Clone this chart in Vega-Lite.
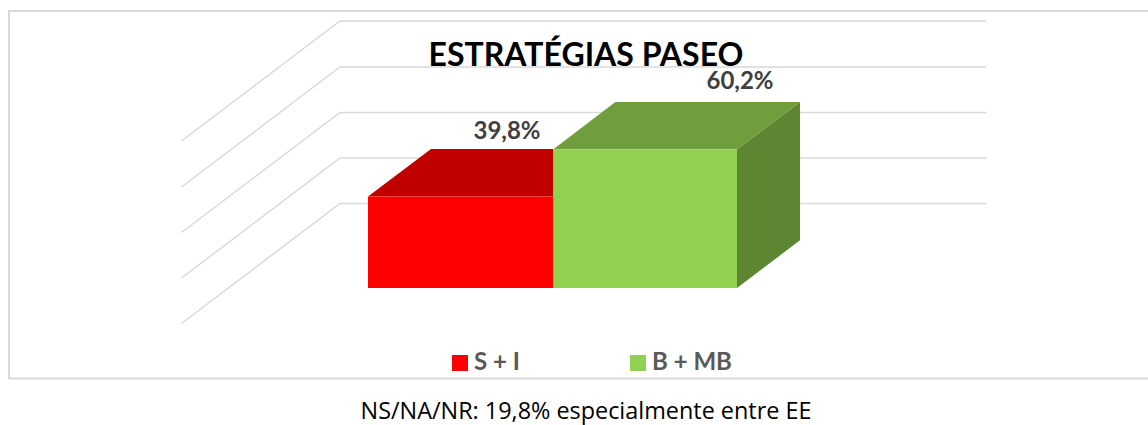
{
"$schema":"https://vega.github.io/schema/vega-lite/v6.json",
"width":1148,"height":425,"padding":0,
"autosize":{"type":"none"},
"background":"white",
"datasets":{
"frame":[{"o":1,"x":1148,"y":11},{"o":2,"x":9,"y":11},{"o":3,"x":9,"y":378.5},{"o":4,"x":1148,"y":378.5}],
"grid":[
{"level":100,"x":181.5,"y":141},{"level":100,"x":340,"y":21},{"level":100,"x":986.5,"y":21},
{"level":75,"x":181.5,"y":187},{"level":75,"x":340,"y":67},{"level":75,"x":986.5,"y":67},
{"level":50,"x":181.5,"y":232.5},{"level":50,"x":340,"y":112.5},{"level":50,"x":986.5,"y":112.5},
{"level":25,"x":181.5,"y":278},{"level":25,"x":340,"y":158},{"level":25,"x":986.5,"y":158},
{"level":0,"x":181.5,"y":323.5},{"level":0,"x":340,"y":203.5},{"level":0,"x":986.5,"y":203.5}],
"front":[{"serie":"S + I","x":368,"x2":553,"y":196.5,"y2":288,"pct":39.8},{"serie":"B + MB","x":553,"x2":737,"y":149.5,"y2":288,"pct":60.2}],
"depth":[
{"face":"topS","x":368,"y":196.5,"y2":196.5},{"face":"topS","x":431,"y":149,"y2":196.5},{"face":"topS","x":553,"y":149,"y2":196.5},
{"face":"topB","x":553,"y":149.5,"y2":149.5},{"face":"topB","x":615.4,"y":102,"y2":149.5},{"face":"topB","x":737,"y":102,"y2":149.5},{"face":"topB","x":800,"y":102,"y2":102},
{"face":"sideB","x":737,"y":149.5,"y2":288},{"face":"sideB","x":800,"y":102,"y2":240.3}],
"labels":[{"t":"39,8%","x":507,"y":132},{"t":"60,2%","x":740,"y":82}],
"title":[{"t":"ESTRATÉGIAS PASEO","x":586,"y":56}],
"note":[{"t":"NS/NA/NR: 19,8% especialmente entre EE","x":586,"y":412}]
},
"layer":[
{"data":{"name":"frame"},"mark":{"type":"line","stroke":"#d9d9d9","strokeWidth":2},
 "encoding":{"x":{"field":"x","type":"quantitative","scale":{"domain":[0,1148],"nice":false},"axis":null},"y":{"field":"y","type":"quantitative","scale":{"domain":[425,0],"nice":false},"axis":null},"order":{"field":"o"}}},
{"data":{"name":"grid"},"mark":{"type":"line","stroke":"#d9d9d9","strokeWidth":1.5},
 "encoding":{"x":{"field":"x","type":"quantitative"},"y":{"field":"y","type":"quantitative"},"detail":{"field":"level"}}},
{"data":{"name":"depth"},"transform":[{"filter":"datum.face==='topS'"}],"mark":{"type":"area","color":"#c00000"},
 "encoding":{"x":{"field":"x","type":"quantitative"},"y":{"field":"y","type":"quantitative"},"y2":{"field":"y2"}}},
{"data":{"name":"depth"},"transform":[{"filter":"datum.face==='topB'"}],"mark":{"type":"area","color":"#709e3d"},
 "encoding":{"x":{"field":"x","type":"quantitative"},"y":{"field":"y","type":"quantitative"},"y2":{"field":"y2"}}},
{"data":{"name":"depth"},"transform":[{"filter":"datum.face==='sideB'"}],"mark":{"type":"area","color":"#5e8531"},
 "encoding":{"x":{"field":"x","type":"quantitative"},"y":{"field":"y","type":"quantitative"},"y2":{"field":"y2"}}},
{"data":{"name":"front"},"mark":{"type":"rect"},
 "encoding":{"x":{"field":"x","type":"quantitative"},"x2":{"field":"x2"},"y":{"field":"y","type":"quantitative"},"y2":{"field":"y2"},
  "color":{"field":"serie","type":"nominal","scale":{"domain":["S + I","B + MB"],"range":["#ff0000","#92d050"]},
   "legend":{"title":null,"orient":"none","legendX":448,"legendY":351,"direction":"horizontal","columns":2,"columnPadding":106,"symbolType":"square","symbolSize":256,"symbolStrokeWidth":0,"symbolOpacity":1,"labelFont":"Lato","labelFontSize":24,"labelFontWeight":"bold","labelColor":"#595959","labelOffset":2,"padding":0,"rowPadding":0}}}},
{"data":{"name":"labels"},"mark":{"type":"text","font":"Lato","fontSize":24,"fontWeight":"bold","color":"#404040"},
 "encoding":{"x":{"field":"x","type":"quantitative"},"y":{"field":"y","type":"quantitative"},"text":{"field":"t"}}},
{"data":{"name":"title"},"mark":{"type":"text","font":"Lato","fontSize":32,"fontWeight":"bold","color":"#000000"},
 "encoding":{"x":{"field":"x","type":"quantitative"},"y":{"field":"y","type":"quantitative"},"text":{"field":"t"}}},
{"data":{"name":"note"},"mark":{"type":"text","font":"Open Sans","fontSize":23.4,"color":"#000000"},
 "encoding":{"x":{"field":"x","type":"quantitative"},"y":{"field":"y","type":"quantitative"},"text":{"field":"t"}}}
],
"config":{"view":{"stroke":null}}
}
